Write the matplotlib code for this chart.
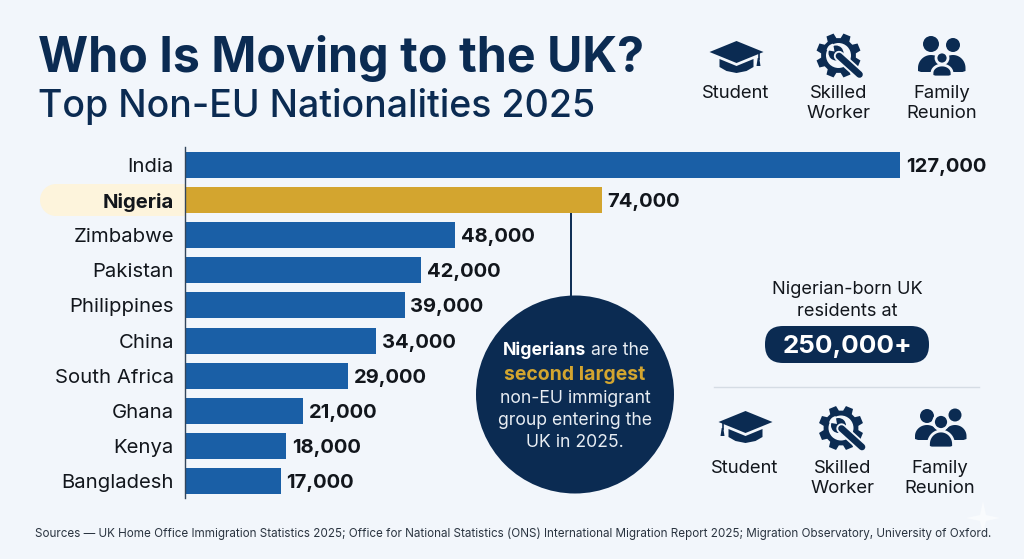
import numpy as np
import matplotlib
matplotlib.use("Agg")
import matplotlib.pyplot as plt
from matplotlib.patches import Circle, Polygon, FancyBboxPatch, Rectangle, Wedge

# --- DATA ---
countries = ["India", "Nigeria", "Zimbabwe", "Pakistan", "Philippines",
             "China", "South Africa", "Ghana", "Kenya", "Bangladesh"]
migrants = [127000, 74000, 48000, 42000, 39000, 34000, 29000, 21000, 18000, 17000]
highlight = "Nigeria"

title = "Who Is Moving to the UK?"
subtitle = "Top Non-EU Nationalities 2025"
residents_label = ["Nigerian-born UK", "residents at"]
residents_value = "250,000+"
sources = ("Sources — UK Home Office Immigration Statistics 2025; Office for National Statistics (ONS) "
           "International Migration Report 2025; Migration Observatory, University of Oxford.")

NAVY = "#0B2B52"
BLUE = "#1A5FA6"
GOLD = "#D3A52F"
INK = "#12161C"
BG = "#F2F6FB"

plt.rcParams["font.family"] = ["Inter", "DejaVu Sans"]

W, H = 1024, 559
fig = plt.figure(figsize=(W / 100, H / 100), dpi=100, facecolor=BG)

# calque en pixels pour le décor
deco = fig.add_axes([0, 0, 1, 1])
deco.set_xlim(0, W)
deco.set_ylim(H, 0)
deco.axis("off")


# --- ICONES ---
def student_icon(cx, cy, tassel_left=False):
    cap = [(cx - 27, cy - 3), (cx, cy - 14), (cx + 27, cy - 3), (cx, cy + 8)]
    base = [(cx - 17, cy + 4), (cx, cy + 11), (cx + 17, cy + 4), (cx + 17, cy + 12),
            (cx + 10, cy + 16), (cx, cy + 18), (cx - 10, cy + 16), (cx - 17, cy + 12)]
    deco.add_patch(Polygon(cap, closed=True, fc=NAVY, ec="none"))
    deco.add_patch(Polygon(base, closed=True, fc=NAVY, ec="none"))
    tx = cx - 23 if tassel_left else cx + 22
    deco.plot([tx, tx], [cy - 2, cy + 4], color=NAVY, lw=1.2)
    deco.add_patch(Polygon([(tx - 0.8, cy + 3), (tx + 0.8, cy + 3), (tx + 2, cy + 11), (tx - 2, cy + 11)],
                           closed=True, fc=NAVY, ec="none"))


def gear_icon(cx, cy):
    pts = []
    for i in range(8):
        a = 2 * np.pi * i / 8 + np.pi / 8
        for da, r in [(-0.27, 17.5), (-0.17, 22.5), (0.17, 22.5), (0.27, 17.5)]:
            pts.append((cx + r * np.cos(a + da), cy + r * np.sin(a + da)))
    deco.add_patch(Polygon(pts, closed=True, fc=NAVY, ec="none"))
    deco.add_patch(Circle((cx, cy), 12.5, fc=BG, ec="none"))
    # clé plate
    x0, y0 = cx - 2.5, cy - 2.5
    x1, y1 = cx + 21, cy + 19
    deco.plot([x0 + 3, x1], [y0 + 3, y1], color=BG, lw=7.5, solid_capstyle="round")
    deco.plot([x0 + 3, x1], [y0 + 3, y1], color=NAVY, lw=4.8, solid_capstyle="round")
    deco.add_patch(Circle((x0, y0), 7.5, fc=NAVY, ec="none"))
    deco.add_patch(Wedge((x0 - 1.5, y0 - 1.5), 8, 190, 260, fc=BG, ec="none"))
    deco.add_patch(Circle((x1 - 0.5, y1 - 0.5), 1.2, fc=BG, ec="none"))


def person(x, head_y, r, w, top, bottom, edge=None):
    # tête + buste arrondi, axe y inversé
    lw = 2.0 if edge else 0
    ec = edge if edge else "none"
    t = np.linspace(np.pi, 2 * np.pi, 30)
    dome = bottom - 4
    pts = [(x + w * np.cos(a), dome + (dome - top) * np.sin(a)) for a in t]
    pts += [(x + w, bottom - 1), (x + w - 3, bottom), (x - w + 3, bottom), (x - w, bottom - 1)]
    deco.add_patch(Polygon(pts, closed=True, fc=NAVY, ec=ec, lw=lw))
    deco.add_patch(Circle((x, head_y), r, fc=NAVY, ec=ec, lw=lw))


# --- DECOR ---
deco.text(38, 71.7, title, fontsize=34.8, fontweight="bold", color=NAVY, va="baseline", ha="left")
deco.text(38, 116.7, subtitle, fontsize=27, fontweight=500, color=NAVY, va="baseline", ha="left")

# icônes du haut
student_icon(736.5, 55)
gear_icon(838.5, 55.5)
person(931, 44, 8, 13, 55, 72)
person(953, 45, 7, 12.5, 55, 72)
person(942, 58, 6, 10, 65, 77, edge=BG)
deco.text(736, 98, "Student", fontsize=13.3, color=INK, ha="center", va="baseline")
deco.text(839, 98, "Skilled", fontsize=13.3, color=INK, ha="center", va="baseline")
deco.text(839, 118, "Worker", fontsize=13.3, color=INK, ha="center", va="baseline")
deco.text(942, 98, "Family", fontsize=13.3, color=INK, ha="center", va="baseline")
deco.text(942, 118, "Reunion", fontsize=13.3, color=INK, ha="center", va="baseline")

# surlignage Nigeria
deco.add_patch(Circle((56, 200), 16, fc="#FDF4DC", ec="none"))
deco.add_patch(Rectangle((56, 184), 129, 32, fc="#FDF4DC", ec="none"))

# ligne vers le cercle + cercle
deco.plot([571, 571], [213, 297], color=NAVY, lw=1.4)
deco.add_patch(Circle((575, 394.5), 99, fc=NAVY, ec="none"))

# texte du cercle, "Nigerians" en gras puis le reste
t1 = deco.text(503, 355, "Nigerians", fontsize=12.7, fontweight="bold", color="white", va="baseline", ha="left")
fig.canvas.draw()
ext = t1.get_window_extent()
deco.text(ext.x1 + 4.5, 355, "are the", fontsize=12.7, color="#E8EDF3", va="baseline", ha="left")
deco.text(575, 379.5, "second largest", fontsize=14, fontweight="bold", color=GOLD, va="baseline", ha="center")
deco.text(575, 403, "non-EU immigrant", fontsize=12.7, color="#E8EDF3", va="baseline", ha="center")
deco.text(575, 425, "group entering the", fontsize=12.7, color="#E8EDF3", va="baseline", ha="center")
deco.text(575, 447, "UK in 2025.", fontsize=12.7, color="#E8EDF3", va="baseline", ha="center")

# encadré droit
deco.text(847, 294, residents_label[0], fontsize=13.1, color=INK, ha="center", va="baseline")
deco.text(847, 316, residents_label[1], fontsize=13.1, color=INK, ha="center", va="baseline")
deco.add_patch(FancyBboxPatch((765, 326), 164, 37, boxstyle="round,pad=0,rounding_size=18",
                              fc=NAVY, ec="none"))
deco.text(847, 353, residents_value, fontsize=18.7, fontweight="bold", color="white", ha="center", va="baseline")
deco.plot([714, 979], [387, 387], color="#D5DCE4", lw=1)

# icônes du bas
student_icon(745.5, 425, tassel_left=True)
gear_icon(841, 428)
person(927, 416, 7, 12, 425, 440)
person(955, 415, 6.5, 11.5, 425, 440)
person(941, 422, 7.5, 12.5, 431, 448, edge=BG)
deco.text(745, 473, "Student", fontsize=13.3, color=INK, ha="center", va="baseline")
deco.text(843, 473, "Skilled", fontsize=13.3, color=INK, ha="center", va="baseline")
deco.text(843, 493, "Worker", fontsize=13.3, color=INK, ha="center", va="baseline")
deco.text(940, 473, "Family", fontsize=13.3, color=INK, ha="center", va="baseline")
deco.text(940, 493, "Reunion", fontsize=13.3, color=INK, ha="center", va="baseline")

# petite étoile claire en bas à droite
star = [(983, 501), (986, 515), (1000, 518), (986, 521), (983, 535), (980, 521), (966, 518), (980, 515)]
deco.add_patch(Polygon(star, closed=True, fc="#F9FBFD", ec="none"))

# sources
deco.text(35, 536.5, sources, fontsize=8.4, color="#2A3440", ha="left", va="baseline")

# --- BARRES ---
bar_top, bar_bottom = 147.5, 498.5
ax = fig.add_axes([185 / W, 1 - bar_bottom / H, (900 - 185) / W, (bar_bottom - bar_top) / H])
ax.patch.set_alpha(0)
y = np.arange(len(countries))
colors = [GOLD if c == highlight else BLUE for c in countries]
ax.barh(y, migrants, height=0.74, color=colors)
ax.set_xlim(0, max(migrants))
ax.set_ylim(len(countries) - 0.5, -0.5)
ax.set_yticks(y)
ax.set_yticklabels(countries, fontsize=14.6, color=INK)
ax.tick_params(axis="y", length=0, pad=8)
ax.xaxis.set_visible(False)
for lab, c in zip(ax.get_yticklabels(), countries):
    if c == highlight:
        lab.set_fontweight("bold")
for s in ["top", "right", "bottom"]:
    ax.spines[s].set_visible(False)
ax.spines["left"].set_color("#33465C")
ax.spines["left"].set_linewidth(1)

for i, v in enumerate(migrants):
    ax.annotate(f"{v:,}", (v, i), xytext=(4.2, 0), textcoords="offset points",
                fontsize=14.5, fontweight="bold", color=INK, va="center_baseline", ha="left",
                annotation_clip=False)

fig.savefig("out.png", dpi=100, facecolor=BG)
